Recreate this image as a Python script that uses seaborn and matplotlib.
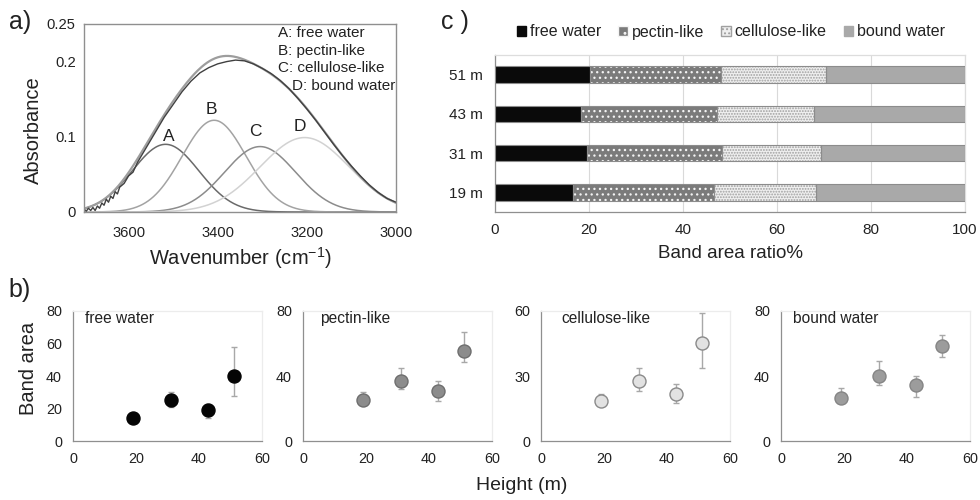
import numpy as np
import pandas as pd
import matplotlib
matplotlib.use("Agg")
import matplotlib.pyplot as plt
import seaborn as sns
from matplotlib.patches import Patch
from matplotlib.ticker import FixedLocator, MultipleLocator

# ---------------- data ----------------
# (a) band fit of the OH stretching region
band_letters = ["A", "B", "C", "D"]
band_names = ["free water", "pectin-like", "cellulose-like", "bound water"]
band_centers = [3517, 3408, 3305, 3205]      # cm-1
band_heights = [0.090, 0.122, 0.087, 0.099]  # absorbance
band_sigmas = [75, 72, 80, 100]              # cm-1
band_colors = ["#6a6a6a", "#a3a3a3", "#8c8c8c", "#d2d2d2"]

measured_wn = [3700, 3695, 3690, 3685, 3680, 3675, 3670, 3665, 3660, 3655, 3650,
               3645, 3640, 3635, 3630, 3625, 3620, 3610, 3600, 3590, 3580,
               3560, 3540, 3520, 3500, 3480, 3460, 3440, 3420, 3400, 3380, 3360,
               3340, 3320, 3300, 3280, 3260, 3240, 3220, 3200, 3180, 3160, 3140,
               3120, 3100, 3080, 3060, 3040, 3020, 3000]
measured_abs = [0.004, 0.001, 0.005, 0.002, 0.006, 0.002, 0.008, 0.005, 0.012, 0.009, 0.017,
                0.013, 0.021, 0.018, 0.027, 0.024, 0.033, 0.038, 0.048, 0.053, 0.066,
                0.086, 0.106, 0.126, 0.143, 0.160, 0.174, 0.185, 0.192, 0.197, 0.200, 0.202,
                0.201, 0.197, 0.191, 0.184, 0.175, 0.164, 0.151, 0.137, 0.122, 0.106, 0.090,
                0.075, 0.061, 0.048, 0.036, 0.026, 0.018, 0.013]

# (b) band areas vs height
heights_m = [19, 31, 43, 51]
free_area = [14.1, 25.3, 19.4, 40.2]
free_lo = [1.5, 4.5, 5.3, 12.6]
free_hi = [1.5, 4.7, 3.7, 17.8]
pectin_area = [25.3, 36.9, 31.0, 55.1]
pectin_lo = [3.1, 5.1, 6.5, 6.7]
pectin_hi = [5.1, 8.2, 6.1, 12.0]
cellulose_area = [18.5, 27.6, 21.9, 45.2]
cellulose_lo = [1.2, 4.5, 4.3, 11.7]
cellulose_hi = [3.4, 5.9, 4.2, 13.9]
bound_area = [26.7, 40.1, 34.2, 58.2]
bound_lo = [2.0, 5.5, 7.0, 6.8]
bound_hi = [6.2, 9.1, 5.9, 7.2]

# (c) band area ratio %
ratio_heights = ["19 m", "31 m", "43 m", "51 m"]
ratio_free = [16.5, 19.5, 18.2, 20.2]
ratio_pectin = [30.2, 28.8, 29.1, 27.8]
ratio_cellulose = [21.7, 21.1, 20.6, 22.5]
ratio_bound = [31.6, 30.6, 32.1, 29.5]

# ---------------- style ----------------
sns.set_theme(style="white")
plt.rcParams["font.family"] = ["Liberation Sans", "DejaVu Sans"]
plt.rcParams["hatch.linewidth"] = 0.9
TXT = "#222222"
AX = "#8f8f8f"

W, H = 980, 500
fig = plt.figure(figsize=(9.8, 5.0), dpi=100)


def box(l, t, r, b):
    return [l / W, 1 - b / H, (r - l) / W, (b - t) / H]


def ftext(x, y, s, **kw):
    fig.text(x / W, 1 - y / H, s, **kw)


# ---------------- panel a ----------------
axa = fig.add_axes(box(84, 24, 396, 212))
wn = np.arange(3700, 2999, -2.0)
comps = []
for c, h, s, col in zip(band_centers, band_heights, band_sigmas, band_colors):
    y = h * np.exp(-((wn - c) ** 2) / (2 * s ** 2))
    comps.append(y)
    sns.lineplot(x=wn, y=y, ax=axa, color=col, lw=1.1, sort=False)
fit_sum = np.sum(comps, axis=0)
sns.lineplot(x=wn, y=fit_sum, ax=axa, color="#9d9d9d", lw=1.6, sort=False)
sns.lineplot(x=measured_wn, y=measured_abs, ax=axa, color="#404040", lw=1.0, sort=False)
axa.set_xlim(3700, 3000)
axa.set_ylim(0, 0.25)
axa.xaxis.set_major_locator(FixedLocator([3600, 3400, 3200, 3000]))
axa.xaxis.set_minor_locator(FixedLocator([3500, 3300, 3100]))
axa.yaxis.set_major_locator(FixedLocator([0, 0.1, 0.2, 0.25]))
axa.yaxis.set_minor_locator(FixedLocator([0.05, 0.15]))
axa.set_yticklabels(["0", "0.1", "0.2", "0.25"])
axa.tick_params(which="both", direction="in", color=AX, labelsize=10.6,
                labelcolor=TXT, length=5, width=0.8)
axa.tick_params(axis="x", pad=10)
axa.tick_params(axis="y", pad=6)
axa.set_xlabel("")
axa.set_ylabel("")
for sp in axa.spines.values():
    sp.set_color(AX)
    sp.set_linewidth(1.0)
label_pos = [(3509, 0.101), (3414, 0.1365), (3316, 0.1068), (3215, 0.1135)]
for lt, (x, y) in zip(band_letters, label_pos):
    axa.text(x, y, lt, ha="center", va="center", fontsize=12.5, color=TXT)
for i, (lt, nm) in enumerate(zip(band_letters, band_names)):
    ftext(292 if i == 3 else 278, [33, 51, 68.5, 86.5][i], f"{lt}: {nm}",
          fontsize=11, color=TXT, va="center", ha="left")
ftext(33, 130, "Absorbance", rotation=90, fontsize=14.5, color=TXT, ha="center", va="center")
ftext(240, 265, r"Wavenumber (cm$^{\mathregular{-1}}$)", fontsize=14.5, color=TXT,
      ha="center", va="baseline")
ftext(20, 22, "a)", fontsize=18, color=TXT, ha="center", va="center")

# ---------------- panel c ----------------
axc = fig.add_axes(box(495, 55, 965, 212))
ypos = np.arange(len(ratio_heights))
bh = 0.42
edge = "#8c8c8c"
left = np.zeros(len(ratio_heights))
axc.barh(ypos, ratio_free, left=left, height=bh, color="#0a0a0a", edgecolor=edge, lw=0.8, zorder=3)
left = left + np.array(ratio_free)
axc.barh(ypos, ratio_pectin, left=left, height=bh, color="#7b7b7b", edgecolor="#f4f4f4",
         hatch="...", lw=0, zorder=3)
axc.barh(ypos, ratio_pectin, left=left, height=bh, fill=False, edgecolor=edge, lw=0.8, zorder=4)
left = left + np.array(ratio_pectin)
axc.barh(ypos, ratio_cellulose, left=left, height=bh, color="#efefef", edgecolor="#a0a0a0",
         hatch="......", lw=0, zorder=3)
axc.barh(ypos, ratio_cellulose, left=left, height=bh, fill=False, edgecolor=edge, lw=0.8, zorder=4)
left = left + np.array(ratio_cellulose)
axc.barh(ypos, ratio_bound, left=left, height=bh, color="#a9a9a9", edgecolor=edge, lw=0.8, zorder=3)
axc.set_xlim(0, 100)
axc.set_ylim(-0.5, len(ratio_heights) - 0.5)
axc.set_yticks(ypos)
axc.set_yticklabels(ratio_heights)
axc.xaxis.set_major_locator(MultipleLocator(20))
axc.xaxis.set_minor_locator(MultipleLocator(10))
axc.grid(axis="x", color="#d9d9d9", lw=0.8, zorder=0)
axc.tick_params(axis="x", which="both", direction="out", color=AX, length=5, width=0.8,
                labelsize=11, labelcolor=TXT, pad=3)
axc.tick_params(axis="x", which="minor", length=4)
axc.tick_params(axis="y", length=0, labelsize=11, labelcolor=TXT, pad=9)
for k, sp in axc.spines.items():
    sp.set_color("#dddddd" if k in ("top", "right") else AX)
    sp.set_linewidth(0.9)
handles = [Patch(facecolor="#0a0a0a", edgecolor="#0a0a0a", label="free water"),
           Patch(facecolor="#7b7b7b", edgecolor="#f4f4f4", hatch="..", label="pectin-like"),
           Patch(facecolor="#efefef", edgecolor="#a0a0a0", hatch="....", label="cellulose-like"),
           Patch(facecolor="#a9a9a9", edgecolor="#a9a9a9", label="bound water")]
fig.legend(handles=handles, loc="center", bbox_to_anchor=(731 / W, 1 - 32 / H), ncol=4,
           frameon=False, fontsize=11.5, handlelength=0.6, handleheight=0.6,
           handletextpad=0.25, columnspacing=1.05, labelcolor=TXT)
ftext(730, 254, "Band area ratio%", fontsize=13.5, color=TXT, ha="center", va="center")
ftext(455, 22, "c )", fontsize=18, color=TXT, ha="center", va="center")

# ---------------- panel b ----------------
b_specs = [
    ("free water", free_area, free_lo, free_hi, "#050505", "#050505", 80, [0, 20, 40, 60, 80], [10, 30, 50, 70], 73, 0.063),
    ("pectin-like", pectin_area, pectin_lo, pectin_hi, "#8c8c8c", "#6e6e6e", 80, [0, 40, 80], [20, 60], 303, 0.092),
    ("cellulose-like", cellulose_area, cellulose_lo, cellulose_hi, "#e2e2e2", "#8a8a8a", 60, [0, 30, 60], [20, 40], 541, 0.11),
    ("bound water", bound_area, bound_lo, bound_hi, "#9c9c9c", "#858585", 80, [0, 40, 80], [20, 60], 781, 0.063),
]
for name, vals, lo, hi, fc, ec, ymax, majors, minors, lpx, tx in b_specs:
    ax = fig.add_axes(box(lpx, 310.7, lpx + 189, 441.3))
    ax.errorbar(heights_m, vals, yerr=[lo, hi], fmt="none", ecolor="#a8a8a8",
                elinewidth=1.0, capsize=2, capthick=1.0, zorder=2)
    sns.scatterplot(x=heights_m, y=vals, ax=ax, s=88, color=fc, edgecolor=ec,
                    linewidth=1.0, zorder=3)
    ax.set_xlim(0, 60)
    ax.set_ylim(0, ymax)
    ax.xaxis.set_major_locator(FixedLocator([0, 20, 40, 60]))
    ax.yaxis.set_major_locator(FixedLocator(majors))
    ax.yaxis.set_minor_locator(FixedLocator(minors))
    ax.tick_params(which="both", direction="out", color=AX, length=5, width=0.8,
                   labelsize=10.4, labelcolor=TXT, pad=3)
    ax.tick_params(which="minor", length=4)
    for k, sp in ax.spines.items():
        sp.set_color("#ececec" if k in ("top", "right") else AX)
        sp.set_linewidth(0.9)
    ax.text(tx, 0.943, name, transform=ax.transAxes, fontsize=11.2, color=TXT,
            ha="left", va="center")

ftext(28, 368, "Band area", rotation=90, fontsize=14.5, color=TXT, ha="center", va="center")
ftext(522, 486, "Height (m)", fontsize=14, color=TXT, ha="center", va="center")
ftext(20, 290, "b)", fontsize=18, color=TXT, ha="center", va="center")

fig.savefig("out.png", dpi=100, facecolor="white")
